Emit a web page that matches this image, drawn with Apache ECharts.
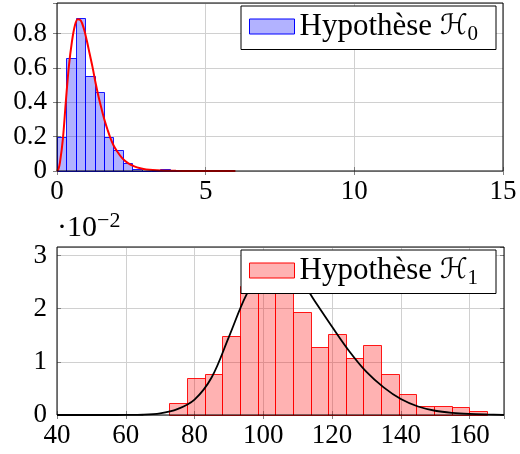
<!DOCTYPE html>
<html>
<head>
<meta charset="utf-8">
<script src="https://cdn.jsdelivr.net/npm/echarts@6/dist/echarts.min.js"></script>
<style>
  html, body { margin: 0; padding: 0; background: #fff; }
  #chart { width: 520px; height: 454px; }
</style>
</head>
<body>
<div id="chart"></div>
<script>
// ---------- Data ----------
// Top panel: hypothesis H0 histogram (density), bin edges and heights
const h0BinEdges = [0, 0.316, 0.632, 0.948, 1.264, 1.58, 1.896, 2.212, 2.528, 2.844, 3.16, 3.476, 3.792, 4.108, 4.424];
const h0Heights  = [0.20, 0.659, 0.888, 0.551, 0.462, 0.20, 0.12, 0.044, 0.012, 0, 0, 0.012, 0, 0.006];
// Top panel: fitted density curve
const h0CurveX = [0, 0.05, 0.1, 0.2, 0.3, 0.4, 0.5, 0.6, 0.7, 0.8, 0.9, 1.0, 1.1, 1.2, 1.3, 1.4, 1.5, 1.6, 1.7, 1.8, 1.9, 2.0, 2.2, 2.4, 2.6, 2.8, 3.0, 3.5, 4.0, 4.5, 5.0, 5.5, 6.0];
const h0CurveY = [0, 0.012, 0.05, 0.19, 0.41, 0.61, 0.75, 0.845, 0.883, 0.875, 0.83, 0.76, 0.68, 0.60, 0.51, 0.43, 0.36, 0.295, 0.24, 0.19, 0.15, 0.12, 0.073, 0.044, 0.027, 0.016, 0.009, 0.003, 0.001, 0.0003, 0.0001, 0, 0];

// Bottom panel: hypothesis H1 histogram (density, in units of 10^-2)
const h1BinEdges = [72.7, 77.83, 82.96, 88.09, 93.22, 98.35, 103.48, 108.61, 113.74, 118.87, 124.0, 129.13, 134.26, 139.39, 144.52, 149.65, 154.78, 159.91, 165.04];
const h1Heights  = [0.23, 0.70, 0.78, 1.48, 2.42, 2.58, 2.44, 1.94, 1.28, 1.52, 1.08, 1.32, 0.78, 0.39, 0.16, 0.16, 0.15, 0.08];
// Bottom panel: fitted density curve (units of 10^-2)
const h1CurveX = [40, 50, 55, 60, 65, 70, 75, 80, 85, 90, 95, 100, 105, 110, 115, 120, 125, 130, 135, 140, 145, 150, 155, 160, 165, 170];
const h1CurveY = [0, 0, 0, 0.001, 0.005, 0.03, 0.11, 0.29, 0.71, 1.47, 2.25, 2.76, 2.87, 2.62, 2.14, 1.66, 1.20, 0.81, 0.52, 0.30, 0.16, 0.08, 0.04, 0.02, 0.01, 0.004];

// Axis ticks
const topXTicks = { min: 0, max: 15, interval: 5 };
const topYTicks = { min: 0, max: 0.977, interval: 0.2 };
const botXTicks = { min: 40, max: 170, interval: 20 };
const botYTicks = { min: 0, max: 3.16, interval: 1 };

const NAME_H0 = 'Hypothèse H0';
const NAME_H1 = 'Hypothèse H1';

// ---------- Styling ----------
const FONT = '"Liberation Serif", "Times New Roman", serif';
const TICK_FS = 27;
const GRID_COLOR = '#d0d0d0';
const TICK_COLOR = '#808080';

function binData(edges, heights) {
  return heights.map((h, i) => [edges[i], edges[i + 1], h]);
}
function curveData(xs, ys) {
  return xs.map((x, i) => [x, ys[i]]);
}
function histRender(fill, stroke) {
  return function (params, api) {
    const x0 = api.value(0), x1 = api.value(1), h = api.value(2);
    const pTop = api.coord([x0, h]);
    const pBot = api.coord([x1, 0]);
    const left = Math.round(pTop[0]) + 0.5;
    const right = Math.round(pBot[0]) + 0.5;
    const top = Math.round(pTop[1]) + 0.5;
    const bottom = Math.round(pBot[1]) + 0.5;
    return {
      type: 'rect',
      shape: { x: left, y: top, width: right - left, height: bottom - top },
      style: { fill: fill, stroke: stroke, lineWidth: 1 }
    };
  };
}

function xAxisCfg(gridIndex, t, hideMax) {
  return {
    type: 'value', gridIndex: gridIndex, min: t.min, max: t.max, interval: t.interval,
    axisLine: { show: false },
    axisTick: { show: true, inside: true, length: 4, lineStyle: { color: TICK_COLOR } },
    splitLine: { show: true, lineStyle: { color: GRID_COLOR, width: 1 } },
    axisLabel: { show: true, margin: 7, color: '#000', fontFamily: FONT, fontSize: TICK_FS, showMaxLabel: !hideMax, showMinLabel: true }
  };
}
function xAxisMirror(gridIndex, t) {
  return {
    type: 'value', gridIndex: gridIndex, position: 'top', min: t.min, max: t.max, interval: t.interval,
    axisLine: { show: false },
    axisTick: { show: true, inside: true, length: 4, lineStyle: { color: TICK_COLOR } },
    splitLine: { show: false }, axisLabel: { show: false }
  };
}
function yAxisCfg(gridIndex, t, extra) {
  return Object.assign({
    type: 'value', gridIndex: gridIndex, min: t.min, max: t.max, interval: t.interval,
    axisLine: { show: false },
    axisTick: { show: true, inside: true, length: 4, lineStyle: { color: TICK_COLOR } },
    splitLine: { show: true, lineStyle: { color: GRID_COLOR, width: 1 } },
    axisLabel: { show: true, margin: 10, color: '#000', fontFamily: FONT, fontSize: TICK_FS, showMaxLabel: false }
  }, extra || {});
}
function yAxisMirror(gridIndex, t) {
  return {
    type: 'value', gridIndex: gridIndex, position: 'right', min: t.min, max: t.max, interval: t.interval,
    axisLine: { show: false },
    axisTick: { show: true, inside: true, length: 4, lineStyle: { color: TICK_COLOR } },
    splitLine: { show: false }, axisLabel: { show: false }
  };
}

function legendCfg(name, top, fill, stroke, sub) {
  return {
    show: true, left: 241, top: top, orient: 'horizontal',
    selectedMode: false,
    itemWidth: 45, itemHeight: 15,
    padding: [5, 18, 5, 8],
    borderColor: '#000', borderWidth: 1, borderRadius: 0, backgroundColor: '#fff',
    data: [{ name: name, icon: 'rect', itemStyle: { color: fill, borderColor: stroke, borderWidth: 1 } }],
    formatter: function () { return '{n|Hypothèse }{h|ℋ}{s|' + sub + '}'; },
    textStyle: {
      color: '#000',
      rich: {
        n: { fontFamily: FONT, fontSize: 31, lineHeight: 36 },
        h: { fontFamily: '"DejaVu Serif", "DejaVu Sans", serif', fontSize: 28, lineHeight: 36 },
        s: { fontFamily: FONT, fontSize: 21, lineHeight: 21, verticalAlign: 'bottom' }
      }
    }
  };
}

const H0_FILL = 'rgba(0,0,255,0.3)', H0_STROKE = 'rgba(0,0,255,0.9)';
const H1_FILL = 'rgba(255,0,0,0.3)', H1_STROKE = 'rgba(255,0,0,0.9)';

const option = {
  animation: false,
  backgroundColor: '#fff',
  grid: [
    { left: 57, top: 3, width: 446, height: 168, show: true, borderColor: '#000', borderWidth: 1, backgroundColor: 'transparent', z: 5 },
    { left: 57, top: 247, width: 447, height: 168, show: true, borderColor: '#000', borderWidth: 1, backgroundColor: 'transparent', z: 5 }
  ],
  xAxis: [
    xAxisCfg(0, topXTicks, false),
    xAxisCfg(1, botXTicks, true),
    xAxisMirror(0, topXTicks),
    xAxisMirror(1, botXTicks)
  ],
  yAxis: [
    yAxisCfg(0, topYTicks),
    yAxisCfg(1, botYTicks, {
      name: '{b|·10}{sup|−2}',
      nameLocation: 'end',
      nameGap: 1,
      nameTextStyle: {
        align: 'left', verticalAlign: 'bottom', color: '#000',
        rich: {
          b: { fontFamily: FONT, fontSize: 30, lineHeight: 36, color: '#000' },
          sup: { fontFamily: FONT, fontSize: 22, lineHeight: 22, verticalAlign: 'top', color: '#000' }
        }
      }
    }),
    yAxisMirror(0, topYTicks),
    yAxisMirror(1, botYTicks)
  ],
  legend: [
    legendCfg(NAME_H0, 6, H0_FILL, '#0000ff', '0'),
    legendCfg(NAME_H1, 250, H1_FILL, '#ff0000', '1')
  ],
  series: [
    {
      name: NAME_H0, type: 'custom', xAxisIndex: 0, yAxisIndex: 0,
      renderItem: histRender(H0_FILL, H0_STROKE),
      encode: { x: [0, 1], y: 2 },
      itemStyle: { color: H0_FILL, borderColor: '#0000ff' },
      data: binData(h0BinEdges, h0Heights), z: 2
    },
    {
      name: 'H0 density', type: 'line', xAxisIndex: 0, yAxisIndex: 0,
      data: curveData(h0CurveX, h0CurveY),
      smooth: 0.35, showSymbol: false, symbol: 'none',
      lineStyle: { color: '#ff0000', width: 2 }, z: 3
    },
    {
      name: NAME_H1, type: 'custom', xAxisIndex: 1, yAxisIndex: 1,
      renderItem: histRender(H1_FILL, H1_STROKE),
      encode: { x: [0, 1], y: 2 },
      itemStyle: { color: H1_FILL, borderColor: '#ff0000' },
      data: binData(h1BinEdges, h1Heights), z: 2
    },
    {
      name: 'H1 density', type: 'line', xAxisIndex: 1, yAxisIndex: 1,
      data: curveData(h1CurveX, h1CurveY),
      smooth: 0.35, showSymbol: false, symbol: 'none',
      lineStyle: { color: '#000', width: 1.8 }, z: 3
    }
  ]
};

const chart = echarts.init(document.getElementById('chart'), null, { renderer: 'canvas' });
chart.setOption(option);
</script>
</body>
</html>
